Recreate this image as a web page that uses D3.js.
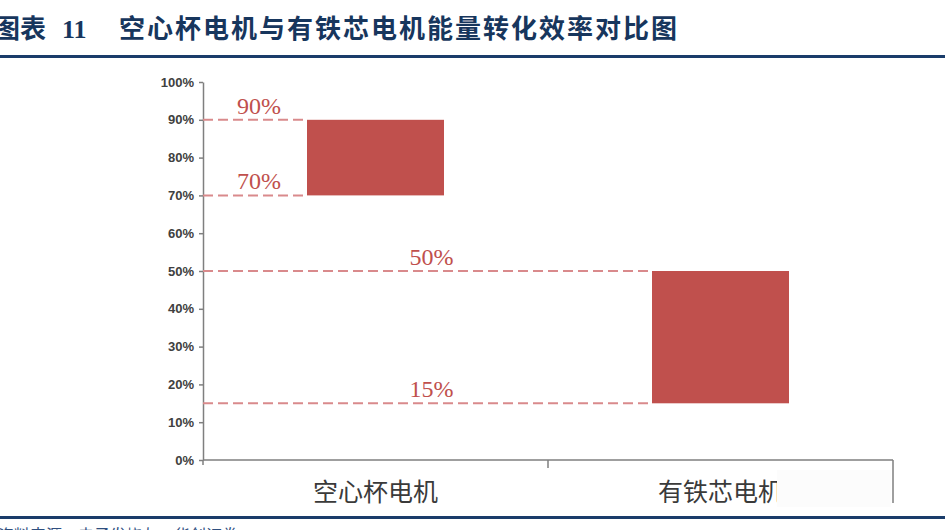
<!DOCTYPE html>
<html>
<head>
<meta charset="utf-8">
<script src="https://cdn.jsdelivr.net/npm/d3@7"></script>
<style>
  body { margin: 0; background: #fff; }
  svg { display: block; }
</style>
</head>
<body>
<script>
// 图表的宽度和高度
var width = 945;
var height = 530;

var categories = ['空心杯电机', '有铁芯电机'];
var lowValues = [70, 15];
var highValues = [90, 50];
var yTicks = [0, 10, 20, 30, 40, 50, 60, 70, 80, 90, 100];

var svg = d3.select('body')
            .append('svg')
            .attr('width', width)
            .attr('height', height);

// 标题
svg.append('text')
   .attr('x', -6)
   .attr('y', 38)
   .attr('fill', '#17365d')
   .attr('font-family', '"Noto Sans CJK SC", sans-serif')
   .attr('font-weight', 'bold')
   .attr('font-size', 26)
   .text('图表');
svg.append('text')
   .attr('x', 62)
   .attr('y', 38)
   .attr('fill', '#17365d')
   .attr('font-family', '"Liberation Serif", serif')
   .attr('font-weight', 'bold')
   .attr('font-size', 26)
   .text('11');
svg.append('text')
   .attr('x', 119)
   .attr('y', 38)
   .attr('fill', '#17365d')
   .attr('font-family', '"Noto Sans CJK SC", sans-serif')
   .attr('font-weight', 'bold')
   .attr('font-size', 26)
   .attr('letter-spacing', 2)
   .text('空心杯电机与有铁芯电机能量转化效率对比图');

svg.append('rect')
   .attr('x', 0).attr('y', 55)
   .attr('width', width).attr('height', 3)
   .attr('fill', '#1a3c6a');
svg.append('rect')
   .attr('x', 0).attr('y', 516)
   .attr('width', width).attr('height', 3)
   .attr('fill', '#1a3c6a');

// 资料来源（被裁切）
svg.append('text')
   .attr('x', -2)
   .attr('y', 541)
   .attr('fill', '#2f4f7f')
   .attr('font-family', '"Noto Sans CJK SC", sans-serif')
   .attr('font-size', 16)
   .text('资料来源：电子发烧友，华创证券');

var x = d3.scaleBand()
          .domain(categories)
          .range([203, 893]);

var y = d3.scaleLinear()
          .domain([0, 100])
          .range([460, 82]);

var barWidth = 137;
var axisColor = '#7f7f7f';
var red = '#c0504d';
var dashColor = '#d98a8c';

// y 轴
var yAxis = d3.axisLeft(y)
              .tickValues(yTicks)
              .tickSize(4)
              .tickSizeOuter(0)
              .tickFormat(function(d){ return d + '%'; });

var gy = svg.append('g')
            .attr('transform', 'translate(203,0)')
            .call(yAxis);
gy.select('.domain').attr('stroke', axisColor).attr('stroke-width', 1.5);
gy.selectAll('.tick line').attr('stroke', axisColor).attr('stroke-width', 1.5);
gy.selectAll('.tick text')
  .attr('x', -9)
  .attr('fill', '#404040')
  .attr('font-family', '"Liberation Sans Narrow", "Liberation Sans", sans-serif')
  .attr('font-weight', 'bold')
  .attr('font-size', 13);

// x 轴
svg.append('line')
   .attr('x1', x.range()[0]).attr('x2', x.range()[1])
   .attr('y1', y(0)).attr('y2', y(0))
   .attr('stroke', axisColor).attr('stroke-width', 1.5);

var xEdges = categories.map(function(c){ return x(c); }).concat([x.range()[1]]);
svg.selectAll('.xtick')
   .data(xEdges)
   .enter()
   .append('line')
   .attr('class', 'xtick')
   .attr('x1', function(d){ return d; })
   .attr('x2', function(d){ return d; })
   .attr('y1', y(0))
   .attr('y2', function(d, i){
     if(i === 0) { return y(0) + 5; }
     if(i === xEdges.length - 1) { return y(0) + 43; }
     return y(0) + 8;
   })
   .attr('stroke', axisColor)
   .attr('stroke-width', 1.5);

// 柱子
var bars = svg.selectAll('.bar')
              .data(categories)
              .enter()
              .append('g')
              .attr('class', 'bar');

bars.append('rect')
    .attr('x', function(d){ return x(d) + (x.bandwidth() - barWidth) / 2; })
    .attr('y', function(d, i){ return y(highValues[i]); })
    .attr('width', barWidth)
    .attr('height', function(d, i){ return y(lowValues[i]) - y(highValues[i]); })
    .attr('fill', red);

// 虚线和数值
function addGuides(vals) {
  bars.append('line')
      .attr('x1', x.range()[0])
      .attr('x2', function(d){ return x(d) + (x.bandwidth() - barWidth) / 2; })
      .attr('y1', function(d, i){ return y(vals[i]); })
      .attr('y2', function(d, i){ return y(vals[i]); })
      .attr('stroke', dashColor)
      .attr('stroke-width', 2)
      .attr('stroke-dasharray', '10,5');

  bars.append('text')
      .attr('x', function(d){ return (x.range()[0] + x(d) + (x.bandwidth() - barWidth) / 2) / 2 + 4; })
      .attr('y', function(d, i){ return y(vals[i]) - 6; })
      .attr('text-anchor', 'middle')
      .attr('fill', red)
      .attr('font-family', '"Liberation Serif", serif')
      .attr('font-size', 24)
      .text(function(d, i){ return vals[i] + '%'; });
}
addGuides(highValues);
addGuides(lowValues);

// 分类标签
svg.selectAll('.cat')
   .data(categories)
   .enter()
   .append('text')
   .attr('class', 'cat')
   .attr('x', function(d){ return x(d) + x.bandwidth() / 2; })
   .attr('y', 501)
   .attr('text-anchor', 'middle')
   .attr('fill', '#3a3a3a')
   .attr('font-family', '"Noto Sans CJK SC", sans-serif')
   .attr('font-size', 25)
   .text(function(d){ return d; });

// 右下角遮挡块
svg.append('rect')
   .attr('x', 777).attr('y', 470)
   .attr('width', 114).attr('height', 37)
   .attr('fill', '#fcfcfc');
</script>
</body>
</html>
